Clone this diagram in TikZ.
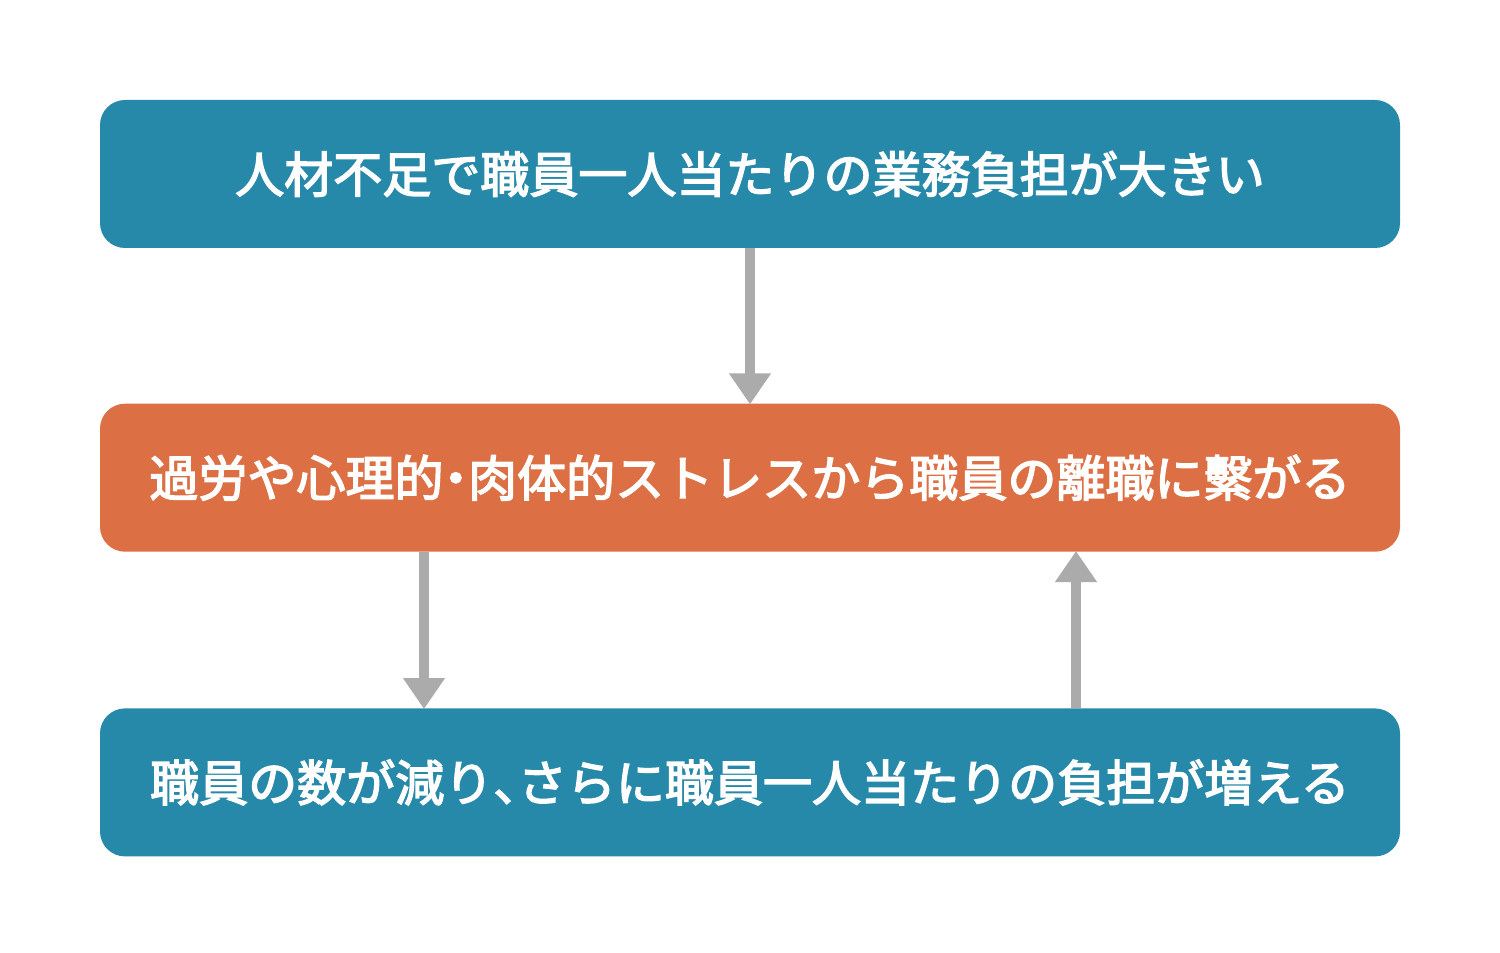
\documentclass[tikz,border=0pt]{standalone}
\usepackage{fontspec}
\newfontfamily\jpfont{Noto Sans CJK JP}[FakeBold=3]
\usetikzlibrary{arrows.meta, positioning}
\definecolor{boxteal}{HTML}{2789A9}
\definecolor{boxorange}{HTML}{DC6F43}
\definecolor{arrowgray}{HTML}{ABABAB}
% half-width punctuation
\newcommand{\nakaguro}{\makebox[0.5em]{・}}
\newcommand{\touten}{\makebox[0.5em][l]{、}}
\begin{document}
\begin{tikzpicture}[
    box/.style={rounded corners=0.5cm, minimum width=26cm, minimum height=2.96cm,
        inner sep=0pt, text=white, font=\jpfont\fontsize{27.9pt}{32pt}\selectfont},
    flow/.style={arrowgray, line width=0.2cm,
        -{Triangle[width=0.8cm, length=0.62cm]}, shorten >=-0.02cm},
]
\useasboundingbox (0,0) rectangle (30,19.04);
% boxes
\node[box, fill=boxteal] (load) at (15,15.56) {人材不足で職員一人当たりの業務負担が大きい};
\node[box, fill=boxorange, below=3.1cm of load] (quit) {過労や心理的\nakaguro 肉体的ストレスから職員の離職に繫がる};
\node[box, fill=boxteal, below=3.12cm of quit] (fewer) {職員の数が減り\touten さらに職員一人当たりの負担が増える};
% arrows
\draw[flow] (load.south) -- (quit.north);
\draw[flow] ([xshift=-6.52cm]quit.south) -- ([xshift=-6.52cm]fewer.north);
\draw[flow] ([xshift=6.52cm]fewer.north) -- ([xshift=6.52cm]quit.south);
\end{tikzpicture}
\end{document}
